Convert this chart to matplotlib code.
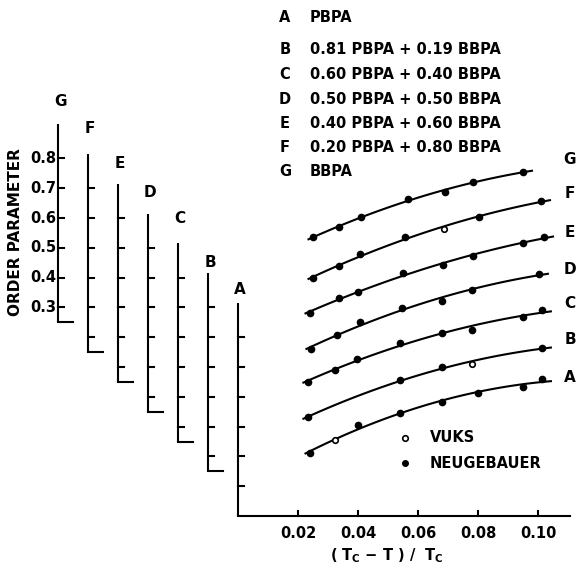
import matplotlib
matplotlib.use("Agg")
import matplotlib.pyplot as plt
import numpy as np

plt.rcParams['font.family'] = ['DejaVu Sans']
plt.rcParams['font.weight'] = 'bold'

# curve names and mixtures
names = ['A', 'B', 'C', 'D', 'E', 'F', 'G']
mixtures = ['PBPA', '0.81 PBPA + 0.19 BBPA', '0.60 PBPA + 0.40 BBPA',
            '0.50 PBPA + 0.50 BBPA', '0.40 PBPA + 0.60 BBPA',
            '0.20 PBPA + 0.80 BBPA', 'BBPA']

tick_vals = [0.3, 0.4, 0.5, 0.6, 0.7, 0.8]
x_ticks = [0.02, 0.04, 0.06, 0.08, 0.10]

# (Tc - T)/Tc  and order parameter, Neugebauer
A_x = [0.024, 0.040, 0.054, 0.068, 0.080, 0.095, 0.1013]
A_s = [0.411, 0.505, 0.546, 0.583, 0.613, 0.633, 0.660]
B_x = [0.0233, 0.054, 0.068, 0.1013]
B_s = [0.432, 0.556, 0.600, 0.664]
C_x = [0.0233, 0.0323, 0.0397, 0.054, 0.068, 0.078, 0.095, 0.1013]
C_s = [0.450, 0.490, 0.527, 0.581, 0.614, 0.624, 0.668, 0.691]
D_x = [0.0243, 0.033, 0.0407, 0.0547, 0.068, 0.078, 0.1003]
D_s = [0.460, 0.507, 0.551, 0.598, 0.621, 0.658, 0.712]
E_x = [0.024, 0.0337, 0.040, 0.055, 0.0683, 0.0783, 0.095, 0.102]
E_s = [0.481, 0.532, 0.552, 0.615, 0.642, 0.672, 0.716, 0.736]
F_x = [0.025, 0.0337, 0.0407, 0.0557, 0.0803, 0.101]
F_s = [0.499, 0.539, 0.579, 0.636, 0.703, 0.757]
G_x = [0.025, 0.0337, 0.041, 0.0567, 0.069, 0.0783, 0.095]
G_s = [0.536, 0.570, 0.603, 0.664, 0.687, 0.721, 0.754]

# Vuks points
A_vx = [0.0323]
A_vs = [0.455]
B_vx = [0.078]
B_vs = [0.610]
F_vx = [0.0687]
F_vs = [0.663]

neu_x = [A_x, B_x, C_x, D_x, E_x, F_x, G_x]
neu_s = [A_s, B_s, C_s, D_s, E_s, F_s, G_s]
vuks_x = [A_vx, B_vx, [], [], [], F_vx, []]
vuks_s = [A_vs, B_vs, [], [], [], F_vs, []]

W, H = 576, 568
fig = plt.figure(figsize=(W / 100, H / 100), dpi=100)
ax = fig.add_axes([238 / W, (H - 516) / H, 332 / W, 516 / H])
ax.set_xlim(0, 332 / 3000)
ax.set_ylim(0.2, 0.2 + 516 / 298)
ax.axis('off')

px_x = 1 / 3000   # one pixel in x data
px_y = 1 / 298    # one pixel in y data
lw = 1.5


def gy(py):
    # pixel row -> y data
    return 0.2 + (516 - py) / 298


def gx(px):
    return (px - 238) / 3000


# staggered axes
lab_off = [13, 11, 25, 21, 20, 25, 23]
for k, name in enumerate(names):
    x0 = -0.01 * k
    sh = 0.1 * k
    top = 0.915 + sh
    bot = (0.2 if k == 0 else 0.25) + sh
    ax.plot([x0, x0], [bot, top], color='k', lw=lw, clip_on=False, solid_capstyle='butt')
    for t in tick_vals:
        ax.plot([x0, x0 + 6 * px_x], [t + sh, t + sh], color='k', lw=lw, clip_on=False)
    if k > 0:
        ax.plot([x0, x0 + 15 * px_x], [bot, bot], color='k', lw=lw, clip_on=False)
    ax.text(x0 + 2 * px_x, top + lab_off[k] * px_y, name, ha='center', va='center',
            fontsize=11)

# tick labels only on the G axis
for t in tick_vals:
    ax.text(-0.06 - 2 * px_x, t + 0.6, f'{t:.1f}', ha='right', va='center', fontsize=10.5)
ax.text(gx(16), gy(232), 'ORDER PARAMETER', rotation=90, ha='center', va='center',
        fontsize=11)

# x axis
ax.plot([0, 332 / 3000], [0.2, 0.2], color='k', lw=lw, clip_on=False)
for v in x_ticks:
    ax.plot([v, v], [0.2, 0.2 + 5 * px_y], color='k', lw=lw, clip_on=False)
    ax.text(v, 0.2 - 17 * px_y, f'{v:.2f}', ha='center', va='center', fontsize=10.5)
ax.text(gx(387), gy(556), r'( T$_\mathbf{C}$ $-$ T ) /  T$_\mathbf{C}$', ha='center',
        va='center', fontsize=10.5)

# curves
for k in range(7):
    sh = 0.1 * k
    xs = np.array(neu_x[k] + vuks_x[k])
    ss = np.array(neu_s[k] + vuks_s[k])
    c = np.polyfit(xs, ss, 2)
    xx = np.linspace(xs.min() - 0.0015, xs.max() + 0.003, 100)
    ax.plot(xx, np.polyval(c, xx) + sh, color='k', lw=1.5, clip_on=False)
    ax.plot(neu_x[k], np.array(neu_s[k]) + sh, 'o', color='k', ms=4.5, clip_on=False)
    if vuks_x[k]:
        ax.plot(vuks_x[k], np.array(vuks_s[k]) + sh, 'o', mfc='white', mec='k', ms=4,
                mew=1.2, clip_on=False)

# right side curve labels (G .. A)
right_y = [377, 340, 303, 270, 232, 193, 160]
for k, name in enumerate(names):
    ax.text(gx(570), gy(right_y[k]), name, ha='center', va='center', fontsize=11,
            clip_on=False)

# top list of mixtures
rows_y = [17, 50, 74, 99, 123, 147, 172]
for k, name in enumerate(names):
    ax.text(gx(285), gy(rows_y[k]), name, ha='center', va='center', fontsize=10.5)
    ax.text(gx(310), gy(rows_y[k]), mixtures[k], ha='left', va='center', fontsize=10.5)

# legend
ax.plot([gx(405)], [gy(438)], 'o', mfc='white', mec='k', ms=4, mew=1.2, clip_on=False)
ax.text(gx(430), gy(438), 'VUKS', ha='left', va='center', fontsize=10.5)
ax.plot([gx(405)], [gy(463)], 'o', color='k', ms=4, clip_on=False)
ax.text(gx(430), gy(463), 'NEUGEBAUER', ha='left', va='center', fontsize=10.5)

fig.savefig('out.png', dpi=100)
